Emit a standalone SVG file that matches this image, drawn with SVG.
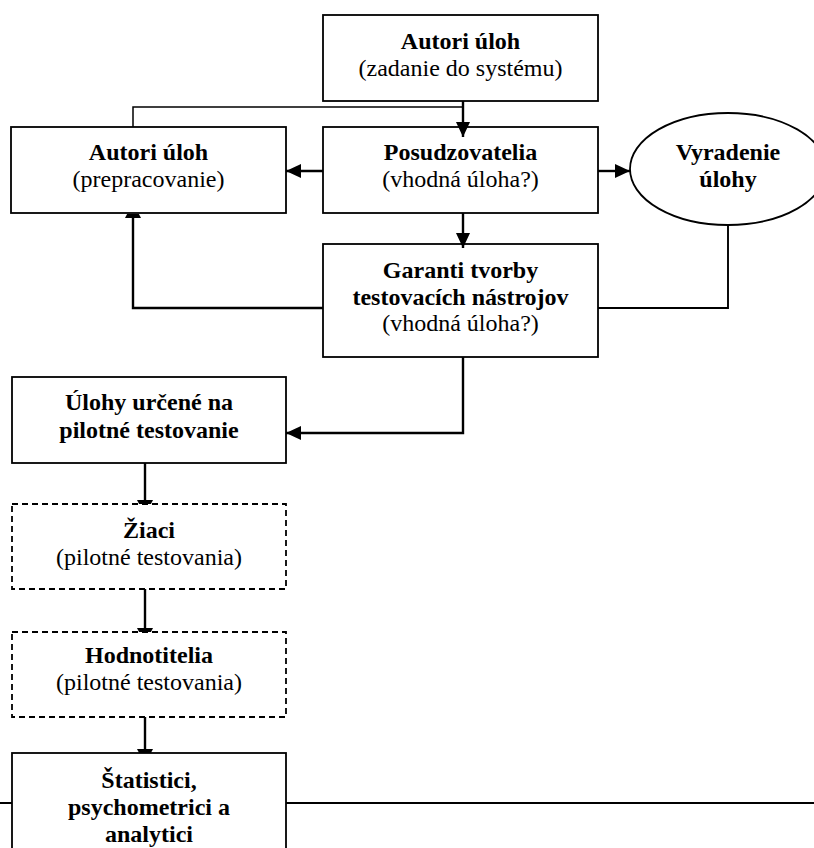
<svg xmlns="http://www.w3.org/2000/svg" width="814" height="848" viewBox="0 0 814 848">
<style>
.box{fill:#fff;stroke:#000;stroke-width:1.8}
.dash{fill:#fff;stroke:#000;stroke-width:1.8;stroke-dasharray:6 4}
.c{fill:none;stroke:#000;stroke-width:2.4}
.thin{fill:none;stroke:#000;stroke-width:1.5}
text{font-family:"Liberation Serif","Times New Roman",serif;font-size:24px;fill:#000;text-anchor:middle}
.b{font-weight:bold}
</style>
<defs>
<marker id="arr" markerUnits="userSpaceOnUse" markerWidth="15" markerHeight="14" refX="15" refY="7" orient="auto">
<path d="M0,0 L15,7 L0,14 z" fill="#000"/>
</marker>
<marker id="stub" markerUnits="userSpaceOnUse" markerWidth="5" markerHeight="16" refX="4" refY="8" orient="auto">
<path d="M0,0 L4,2.1 L4,13.9 L0,16 z" fill="#000"/>
</marker>
</defs>
<line class="thin" x1="0" y1="803" x2="814" y2="803" style="stroke-width:1.8"/>
<g id="n-autori-zadanie">
<rect class="box" x="323" y="15" width="275" height="86"/>
<text class="b" x="460.5" y="49">Autori úloh</text>
<text x="460.5" y="76">(zadanie do systému)</text>
</g>
<g id="n-autori-prepracovanie">
<rect class="box" x="11" y="127" width="275" height="86"/>
<text class="b" x="148.5" y="160">Autori úloh</text>
<text x="148.5" y="187">(prepracovanie)</text>
</g>
<g id="n-posudzovatelia">
<rect class="box" x="323" y="127" width="275" height="86"/>
<text class="b" x="460.5" y="160">Posudzovatelia</text>
<text x="460.5" y="187">(vhodná úloha?)</text>
</g>
<g id="n-vyradenie">
<ellipse class="box" cx="728" cy="169" rx="98" ry="56"/>
<text class="b" x="728" y="160">Vyradenie</text>
<text class="b" x="728" y="187">úlohy</text>
</g>
<g id="n-garanti">
<rect class="box" x="323" y="244" width="275" height="113"/>
<text class="b" x="460.5" y="278">Garanti tvorby</text>
<text class="b" x="460.5" y="305">testovacích nástrojov</text>
<text x="460.5" y="331">(vhodná úloha?)</text>
</g>
<g id="n-ulohy-pilotne">
<rect class="box" x="12" y="377" width="274" height="86"/>
<text class="b" x="149" y="410">Úlohy určené na</text>
<text class="b" x="149" y="438">pilotné testovanie</text>
</g>
<g id="n-ziaci">
<rect class="dash" x="12" y="504" width="274" height="85"/>
<text class="b" x="149" y="538">Žiaci</text>
<text x="149" y="565">(pilotné testovania)</text>
</g>
<g id="n-hodnotitelia">
<rect class="dash" x="12" y="632" width="274" height="85"/>
<text class="b" x="149" y="663">Hodnotitelia</text>
<text x="149" y="690">(pilotné testovania)</text>
</g>
<g id="n-statistici">
<rect class="box" x="12" y="753" width="274" height="110"/>
<text class="b" x="149" y="788">Štatistici,</text>
<text class="b" x="149" y="815">psychometrici a</text>
<text class="b" x="149" y="842">analytici</text>
</g>
<g id="connectors">
<polyline class="thin" points="133,127 133,107 463,107"/>
<line class="c" x1="463" y1="101" x2="463" y2="137" marker-end="url(#arr)"/>
<line class="c" x1="323" y1="171" x2="286" y2="171" marker-end="url(#arr)"/>
<line class="c" x1="598" y1="171" x2="630" y2="171" marker-end="url(#arr)"/>
<line class="c" x1="463" y1="213" x2="463" y2="248" marker-end="url(#arr)"/>
<polyline class="c" points="323,308 133,308 133,214" marker-end="url(#stub)"/>
<polyline class="thin" points="728,225 728,308 598,308" style="stroke-width:1.9"/>
<polyline class="c" points="463,357 463,433 286,433" marker-end="url(#arr)"/>
<line class="c" x1="145" y1="463" x2="145" y2="504" marker-end="url(#stub)"/>
<line class="c" x1="145" y1="589" x2="145" y2="632" marker-end="url(#stub)"/>
<line class="c" x1="145" y1="717" x2="145" y2="753" marker-end="url(#stub)"/>
</g>
</svg>
